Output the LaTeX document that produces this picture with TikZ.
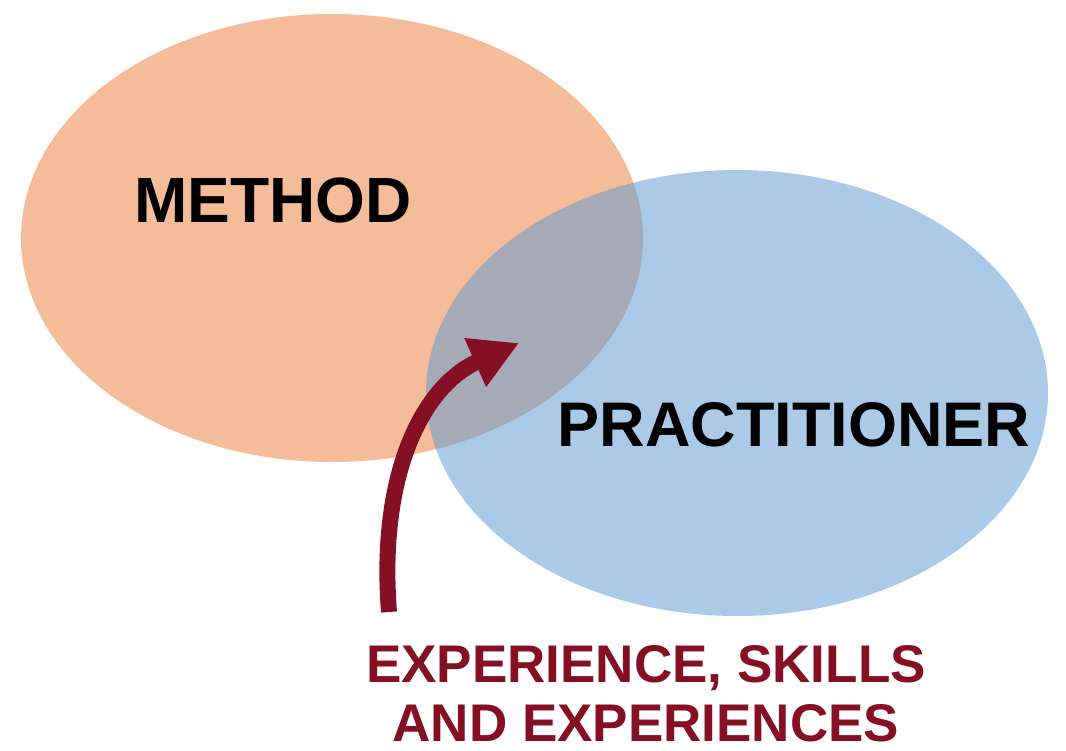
\documentclass[tikz,border=0pt]{standalone}
\usepackage{fontspec}
\setmainfont{Liberation Sans}
\usetikzlibrary{arrows.meta}
\definecolor{orangefill}{RGB}{244,188,152}
\definecolor{bluefill}{RGB}{97,155,212}
\definecolor{darkred}{RGB}{133,15,35}
\tikzset{
  label/.style={text=black, inner sep=0pt, anchor=base},
  redlabel/.style={font=\fontsize{53}{60}\selectfont\bfseries, text=darkred, inner sep=0pt, anchor=base},
  bigarrow/.style={draw=darkred, line width=16pt, -{Triangle[length=48pt,width=50pt]}}
}
\begin{document}
\begin{tikzpicture}[x=1pt,y=-1pt]
\useasboundingbox (0,0) rectangle (1066,750);
\fill[orangefill] (332,238) ellipse [x radius=311, y radius=224];
\fill[bluefill, fill opacity=0.53] (737,393) ellipse [x radius=311, y radius=223];
\node[label, font=\fontsize{64}{70}\selectfont\bfseries] (method) at (273,222) {METHOD};
\node[label, font=\fontsize{63}{70}\selectfont\bfseries] (pract) at (794,446) {PRACTITIONER};
\node[redlabel] (exp1) at (646,682) {EXPERIENCE, SKILLS};
\node[redlabel] (exp2) at (646,741) {AND EXPERIENCES};
\coordinate (astart) at (389,612);
\coordinate (atip) at (519,343);
\draw[bigarrow] (astart) .. controls (378,470) and (425,385) .. (atip);
\end{tikzpicture}
\end{document}
